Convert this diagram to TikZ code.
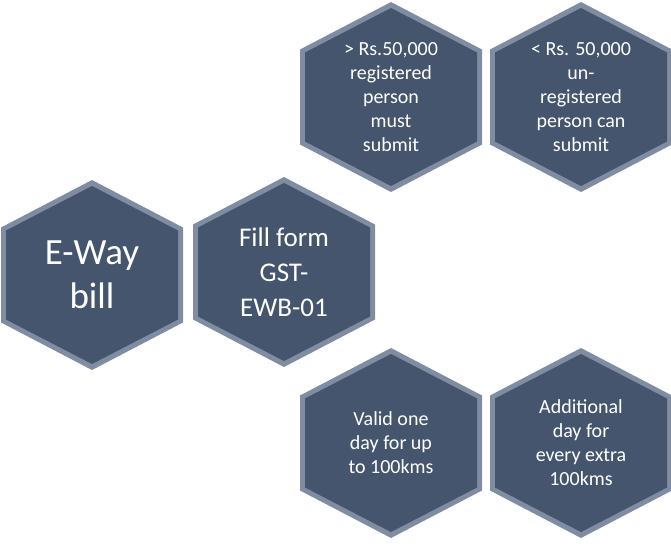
\documentclass[tikz,border=0pt]{standalone}
\usepackage{fontspec}
\setmainfont{Carlito}
\definecolor{hexrim}{HTML}{7F8CA1}
\definecolor{hexbody}{HTML}{45556E}
\tikzset{
  hextext/.style={text=white, align=center, inner sep=0pt},
}
% hexagon: name, centre x, centre y, font size, text
\newcommand{\hexa}[5]{
  \fill[hexrim] (#2,#3) ++(0,-95) -- ++(91,47.5) -- ++(0,95) -- ++(-91,47.5) -- ++(-91,-47.5) -- ++(0,-95) -- cycle;
  \fill[hexbody] (#2,#3) ++(0,-89) -- ++(86,44.5) -- ++(0,89) -- ++(-86,44.5) -- ++(-86,-44.5) -- ++(0,-89) -- cycle;
  \node[hextext, font=#4] (#1) at (#2,#3) {#5};
}
\begin{document}
\begin{tikzpicture}[x=1pt, y=-1pt]
  \useasboundingbox (0,0) rectangle (671,546);
  \hexa{eway}{92}{275}{\fontsize{37}{44}\selectfont}{E-Way\\bill}
  \hexa{form}{284}{272}{\fontsize{27}{35}\selectfont}{Fill form\\GST-\\EWB-01}
  \hexa{above}{391}{97}{\fontsize{20}{24}\selectfont}{> Rs.50,000\\registered\\person\\must\\submit}
  \hexa{below}{581}{97}{\fontsize{20}{24}\selectfont}{< Rs. 50,000\\un-\\registered\\person can\\submit}
  \hexa{valid}{391}{443}{\fontsize{20}{24}\selectfont}{Valid one\\day for up\\to 100kms}
  \hexa{extra}{581}{443}{\fontsize{20}{24}\selectfont}{Additional\\day for\\every extra\\100kms}
\end{tikzpicture}
\end{document}
